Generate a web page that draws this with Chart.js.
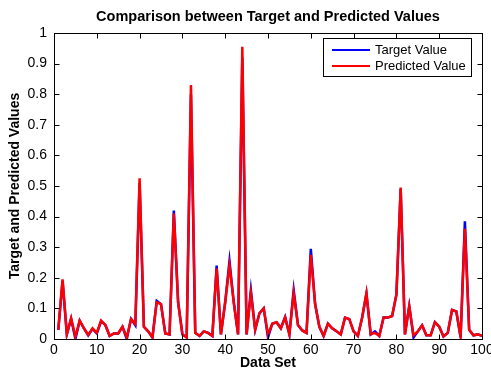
<!DOCTYPE html>
<html>
<head>
<meta charset="utf-8">
<script src="https://cdn.jsdelivr.net/npm/chart.js@4"></script>
<style>
  html, body { margin: 0; padding: 0; background: #fff; }
  #wrap { width: 491px; height: 370px; }
</style>
</head>
<body>
<div id="wrap"><canvas id="cmpChart" width="491" height="370"></canvas></div>
<script>
const dataSet = [
  1, 2, 3, 4, 5, 6, 7, 8, 9, 10, 11, 12, 13, 14, 15, 16, 17, 18, 19, 20,
  21, 22, 23, 24, 25, 26, 27, 28, 29, 30, 31, 32, 33, 34, 35, 36, 37, 38, 39, 40,
  41, 42, 43, 44, 45, 46, 47, 48, 49, 50, 51, 52, 53, 54, 55, 56, 57, 58, 59, 60,
  61, 62, 63, 64, 65, 66, 67, 68, 69, 70, 71, 72, 73, 74, 75, 76, 77, 78, 79, 80,
  81, 82, 83, 84, 85, 86, 87, 88, 89, 90, 91, 92, 93, 94, 95, 96, 97, 98, 99, 100
];

const targetValues = [
  0.03, 0.19, 0.015, 0.066, 0.0, 0.06, 0.035, 0.012, 0.033, 0.018,
  0.058, 0.046, 0.01, 0.018, 0.018, 0.04, 0.0, 0.066, 0.045, 0.51,
  0.04, 0.025, 0.005, 0.125, 0.114, 0.018, 0.015, 0.42, 0.12, 0.015,
  0.005, 0.80, 0.02, 0.01, 0.025, 0.02, 0.01, 0.24, 0.015, 0.12,
  0.255, 0.12, 0.015, 0.92, 0.015, 0.16, 0.03, 0.084, 0.1, 0.005,
  0.05, 0.055, 0.035, 0.072, 0.015, 0.16, 0.046, 0.028, 0.02, 0.295,
  0.115, 0.04, 0.01, 0.05, 0.035, 0.025, 0.015, 0.07, 0.065, 0.025,
  0.01, 0.07, 0.148, 0.015, 0.025, 0.01, 0.07, 0.07, 0.075, 0.145,
  0.49, 0.015, 0.108, 0.005, 0.025, 0.045, 0.012, 0.012, 0.055, 0.04,
  0.008, 0.02, 0.095, 0.09, 0.005, 0.385, 0.03, 0.012, 0.015, 0.01
];

const predictedValues = [
  0.03, 0.195, 0.016, 0.068, 0.008, 0.06, 0.035, 0.013, 0.035, 0.02,
  0.06, 0.046, 0.01, 0.018, 0.018, 0.04, 0.005, 0.065, 0.049, 0.525,
  0.04, 0.025, 0.005, 0.12, 0.114, 0.018, 0.015, 0.41, 0.12, 0.015,
  0.005, 0.83, 0.02, 0.01, 0.025, 0.02, 0.01, 0.23, 0.015, 0.12,
  0.24, 0.12, 0.015, 0.955, 0.015, 0.15, 0.03, 0.084, 0.1, 0.015,
  0.05, 0.055, 0.035, 0.07, 0.015, 0.15, 0.046, 0.028, 0.02, 0.275,
  0.115, 0.04, 0.01, 0.05, 0.035, 0.025, 0.015, 0.07, 0.065, 0.025,
  0.01, 0.07, 0.15, 0.015, 0.02, 0.01, 0.07, 0.07, 0.075, 0.145,
  0.495, 0.015, 0.108, 0.012, 0.025, 0.045, 0.012, 0.012, 0.055, 0.04,
  0.008, 0.02, 0.095, 0.09, 0.008, 0.36, 0.03, 0.012, 0.015, 0.01
];

const xTicks = [0, 10, 20, 30, 40, 50, 60, 70, 80, 90, 100];
const yTicks = [0, 0.1, 0.2, 0.3, 0.4, 0.5, 0.6, 0.7, 0.8, 0.9, 1];

const FONT = 'Arial, "Liberation Sans", sans-serif';

// MATLAB-like box with inward ticks on all four sides, plus the legend
const boxPlugin = {
  id: 'boxPlugin',
  afterDatasetsDraw(chart) {
    const { ctx, chartArea: a, scales } = chart;
    const L = Math.round(a.left) + 0.5, R = Math.round(a.right) + 0.5;
    const T = Math.round(a.top) + 0.5, B = Math.round(a.bottom) + 0.5;
    ctx.save();
    ctx.strokeStyle = '#000';
    ctx.lineWidth = 1;
    ctx.strokeRect(L, T, R - L, B - T);
    ctx.beginPath();
    xTicks.forEach((v) => {
      const px = Math.round(scales.x.getPixelForValue(v)) + 0.5;
      ctx.moveTo(px, B); ctx.lineTo(px, B - 5);
      ctx.moveTo(px, T); ctx.lineTo(px, T + 5);
    });
    yTicks.forEach((v) => {
      const py = Math.round(scales.y.getPixelForValue(v)) + 0.5;
      ctx.moveTo(L, py); ctx.lineTo(L + 5, py);
      ctx.moveTo(R, py); ctx.lineTo(R - 5, py);
    });
    ctx.stroke();

    const lx = 323.5, ly = 38.5, lw = 148, lh = 38;
    ctx.fillStyle = '#fff';
    ctx.fillRect(lx, ly, lw, lh);
    ctx.strokeRect(lx, ly, lw, lh);
    ctx.font = '13px ' + FONT;
    ctx.textBaseline = 'middle';
    chart.data.datasets.forEach((ds, i) => {
      const yy = 50 + i * 16;
      ctx.strokeStyle = ds.borderColor;
      ctx.lineWidth = 2;
      ctx.beginPath();
      ctx.moveTo(332, yy);
      ctx.lineTo(370, yy);
      ctx.stroke();
      ctx.fillStyle = '#000';
      ctx.fillText(ds.label, 375, yy + 0.5);
    });
    ctx.restore();
  }
};

new Chart(document.getElementById('cmpChart'), {
  type: 'line',
  data: {
    datasets: [
      {
        label: 'Target Value',
        data: dataSet.map((x, i) => ({ x, y: targetValues[i] })),
        borderColor: '#0000ff',
        borderWidth: 2.5,
        pointRadius: 0,
        tension: 0,
        order: 2,
      },
      {
        label: 'Predicted Value',
        data: dataSet.map((x, i) => ({ x, y: predictedValues[i] })),
        borderColor: '#ff0000',
        borderWidth: 2.5,
        pointRadius: 0,
        tension: 0,
        order: 1,
      },
    ],
  },
  options: {
    responsive: false,
    animation: false,
    layout: { padding: { top: 0, right: 9, bottom: 0, left: 0 } },
    plugins: {
      legend: { display: false },
      tooltip: { enabled: false },
      title: {
        display: true,
        fullSize: false,
        text: 'Comparison between Target and Predicted Values',
        color: '#000',
        font: { family: FONT, size: 14.5, weight: 'bold', lineHeight: 1.2 },
        padding: { top: 8, bottom: 7.6 },
      },
    },
    scales: {
      x: {
        type: 'linear',
        min: 0,
        max: 100,
        afterFit: (s) => { s.height = 31; s.paddingLeft = 0; s.paddingRight = 0; },
        afterBuildTicks: (s) => { s.ticks = xTicks.map((v) => ({ value: v })); },
        grid: { display: false, drawTicks: false },
        border: { display: false },
        ticks: { color: '#000', padding: 3, maxRotation: 0, font: { family: FONT, size: 14 } },
        title: {
          display: true,
          text: 'Data Set',
          color: '#000',
          font: { family: FONT, size: 14, weight: 'bold', lineHeight: 1 },
          padding: { top: 0, bottom: 0 },
        },
      },
      y: {
        min: 0,
        max: 1,
        afterFit: (s) => { s.width = 54; s.paddingTop = 0; s.paddingBottom = 0; },
        afterBuildTicks: (s) => { s.ticks = yTicks.map((v) => ({ value: v })); },
        grid: { display: false, drawTicks: false },
        border: { display: false },
        ticks: {
          color: '#000',
          padding: 7,
          font: { family: FONT, size: 14 },
          callback: (v) => String(+v.toFixed(1)),
        },
        title: {
          display: true,
          text: 'Target and Predicted Values',
          color: '#000',
          font: { family: FONT, size: 14, weight: 'bold', lineHeight: 1 },
          padding: { top: 8, bottom: 0 },
        },
      },
    },
  },
  plugins: [boxPlugin],
});
</script>
</body>
</html>
